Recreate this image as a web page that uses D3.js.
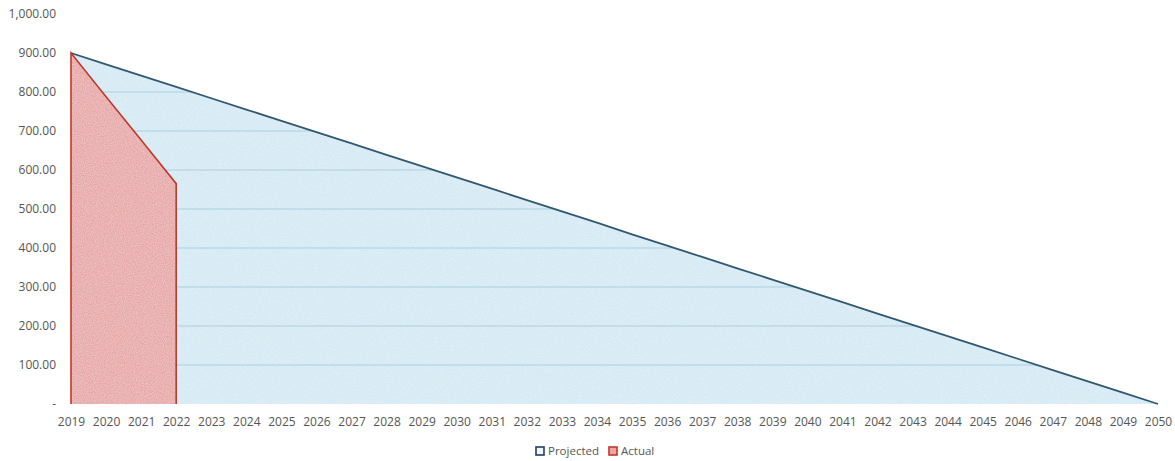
<!DOCTYPE html>
<html>
<head>
<meta charset="utf-8">
<script src="https://cdn.jsdelivr.net/npm/d3@7"></script>
<style>
  body { margin: 0; background: #fff; }
  text { font-family: "Open Sans", "Noto Sans", sans-serif; fill: #555; }
</style>
</head>
<body>
<script>
// data
var years = d3.range(2019, 2051);
var projected = [900, 871, 842, 813, 784, 755, 726, 697, 668, 639, 610, 581, 552, 523, 494, 465,
                 435, 406, 377, 348, 319, 290, 261, 232, 203, 174, 145, 116, 87, 58, 29, 0];
var actualYears = [2019, 2020, 2021, 2022];
var actual = [900, 788, 677, 565];
var yTicks = [0, 100, 200, 300, 400, 500, 600, 700, 800, 900, 1000];
var seriesNames = ["Projected", "Actual"];

var width = 1175, height = 461;
var svg = d3.select("body").append("svg")
    .attr("width", width)
    .attr("height", height);

var x = d3.scalePoint().domain(years).range([71, 1158]);
var y = d3.scaleLinear().domain([0, 1000]).range([404, 14]);

var fmt = d3.format(",.2f");

// y axis labels, no line
var yAxis = svg.append("g")
    .attr("transform", "translate(56,0)")
    .call(d3.axisLeft(y).tickValues(yTicks).tickSize(0).tickPadding(0)
        .tickFormat(function(d) { return d === 0 ? "-" : fmt(d); }));
yAxis.select(".domain").remove();
yAxis.selectAll("text").style("font-size", "12px").attr("fill", "#4a4a4a");

// x axis labels
var xAxis = svg.append("g")
    .attr("transform", "translate(0,417)")
    .call(d3.axisBottom(x).tickSize(0).tickPadding(0));
xAxis.select(".domain").remove();
xAxis.selectAll("text").style("font-size", "12px").attr("fill", "#4a4a4a").attr("dy", "0.71em");

var projData = years.map(function(yr, i) { return { year: yr, v: projected[i] }; });
var actData = actualYears.map(function(yr, i) { return { year: yr, v: actual[i] }; });

var area = d3.area()
    .x(function(d) { return x(d.year); })
    .y0(y(0))
    .y1(function(d) { return y(d.v); });
var line = d3.line()
    .x(function(d) { return x(d.year); })
    .y(function(d) { return y(d.v); });

// texture for the scanned look
var defs = svg.append("defs");
var filt = defs.append("filter").attr("id", "grain");
filt.append("feTurbulence").attr("type", "fractalNoise").attr("baseFrequency", 0.9)
    .attr("numOctaves", 2).attr("seed", 3).attr("result", "n");
filt.append("feColorMatrix").attr("in", "n").attr("type", "matrix")
    .attr("values", "0 0 0 0 1  0 0 0 0 1  0 0 0 0 1  0 0 0 0.5 -0.1")
    .attr("result", "w");
filt.append("feComposite").attr("in", "w").attr("in2", "SourceGraphic").attr("operator", "in")
    .attr("result", "wc");
filt.append("feMerge").selectAll("feMergeNode").data(["SourceGraphic", "wc"]).enter()
    .append("feMergeNode").attr("in", function(d) { return d; });

defs.append("clipPath").attr("id", "projClip")
    .append("path").attr("d", area(projData));

// projected area
svg.append("path")
    .attr("d", area(projData))
    .attr("fill", "#d2e8f3")
    .attr("filter", "url(#grain)");

// faint gridlines showing through the blue fill
svg.append("g").attr("clip-path", "url(#projClip)")
    .selectAll("line")
    .data(yTicks.filter(function(d) { return d > 0; }))
    .enter()
    .append("line")
    .attr("x1", x(2019)).attr("x2", x(2050))
    .attr("y1", function(d) { return y(d); })
    .attr("y2", function(d) { return y(d); })
    .style("stroke", "#a9d0e3")
    .style("stroke-width", 1.2);

svg.append("path")
    .attr("d", line(projData))
    .attr("fill", "none")
    .style("stroke", "#2f5872")
    .style("stroke-width", 1.8);

// actual area
svg.append("path")
    .attr("d", area(actData))
    .attr("fill", "#e6a0a0")
    .attr("filter", "url(#grain)");
var last = actData[actData.length - 1];
svg.append("path")
    .attr("d", "M" + x(2019) + "," + y(0) + line(actData).replace(/^M/, "L") +
        "L" + x(last.year) + "," + y(0))
    .attr("fill", "none")
    .style("stroke", "#c0392b")
    .style("stroke-width", 1.6);

// legend
var legend = svg.append("g").attr("transform", "translate(536,451)");
var items = legend.selectAll("g").data(seriesNames).enter().append("g")
    .attr("transform", function(d, i) { return "translate(" + (i * 73) + ",0)"; });
items.append("rect")
    .attr("width", 8).attr("height", 8).attr("y", -4)
    .attr("fill", function(d, i) { return i === 0 ? "#eef6fb" : "#f0a5a5"; })
    .style("stroke", function(d, i) { return i === 0 ? "#1f3f66" : "#c0392b"; })
    .style("stroke-width", 1.6);
items.append("text")
    .attr("x", 12).attr("dy", "0.35em")
    .style("font-size", "11.5px")
    .text(function(d) { return d; });
</script>
</body>
</html>
